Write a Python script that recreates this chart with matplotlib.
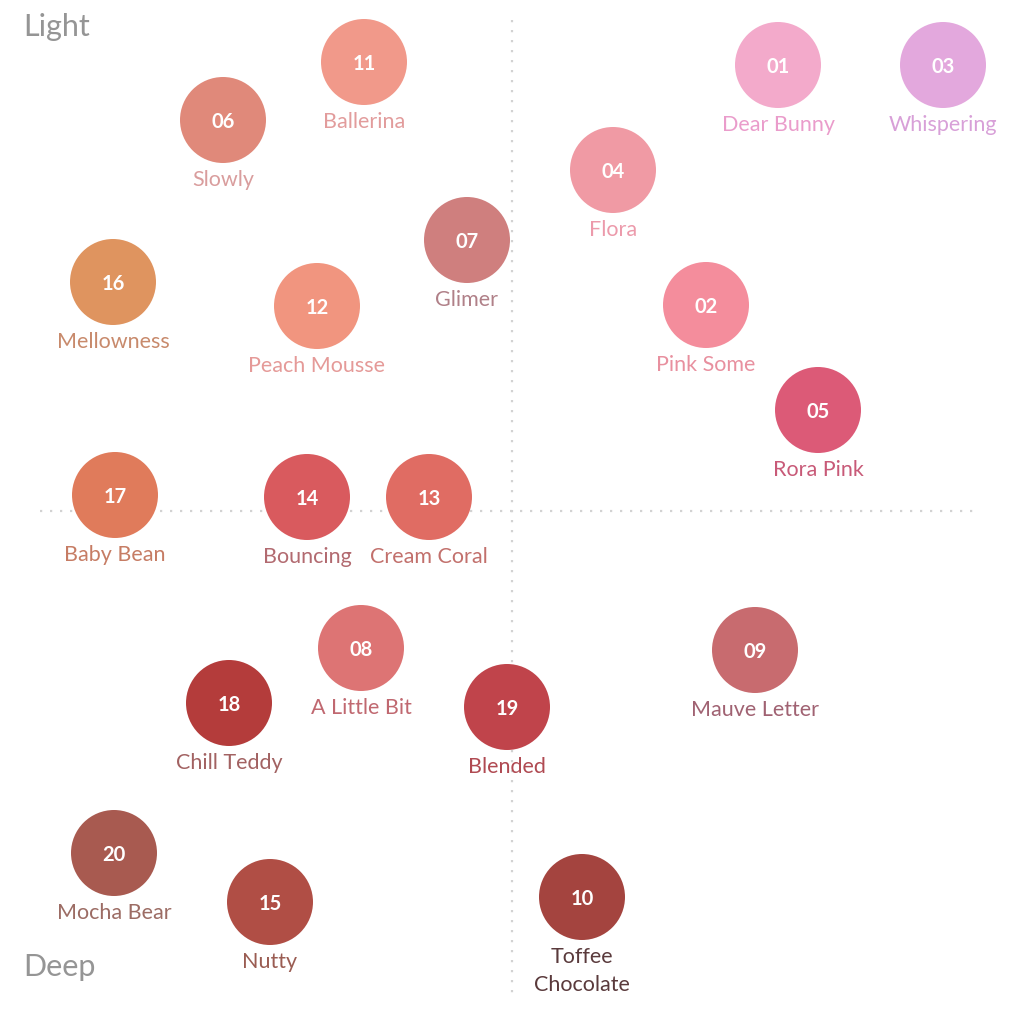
import matplotlib
matplotlib.use("Agg")
import matplotlib.pyplot as plt
from matplotlib.patches import Circle

# Shade numbers, names and their position on the chart (x: warm -> cool, y: light -> deep)
codes = ["11", "06", "01", "03", "04", "07", "16", "12", "02", "05",
         "17", "14", "13", "08", "18", "19", "09", "20", "15", "10"]
names = ["Ballerina", "Slowly", "Dear Bunny", "Whispering", "Flora", "Glimer",
         "Mellowness", "Peach Mousse", "Pink Some", "Rora Pink",
         "Baby Bean", "Bouncing", "Cream Coral", "A Little Bit", "Chill Teddy",
         "Blended", "Mauve Letter", "Mocha Bear", "Nutty", "Toffee\nChocolate"]
x_pos = [364, 223, 778, 943, 613, 467, 113, 317, 706, 818,
         115, 307, 429, 361, 229, 507, 755, 114, 270, 582]
y_pos = [62, 120, 65, 65, 170, 240, 282, 306, 305, 410,
         495, 497, 497, 648, 703, 707, 650, 853, 902, 897]

swatch_colors = ["#f1998a", "#e0897a", "#f3aacb", "#e3a8dd", "#f09aa4", "#cf7f7e",
                 "#df945f", "#f1957f", "#f48d9c", "#dc5a77",
                 "#e07b5b", "#d95a5e", "#e06c63", "#dd7474", "#b43c3b",
                 "#c0444b", "#c86b6f", "#a85a50", "#b04e45", "#a4443f"]
label_colors = ["#e29c9c", "#d99d9d", "#ea9ccb", "#d8a0d8", "#ec9aab", "#b08088",
                "#c88a6c", "#e59a98", "#e8909f", "#c85a78",
                "#c67c64", "#b26a70", "#c2706c", "#c06870", "#a26262",
                "#b04a52", "#a06272", "#9c6c64", "#9a5c52", "#5a3a3c"]

fig = plt.figure(figsize=(10.24, 10.24), dpi=100)
ax = fig.add_axes([0, 0, 1, 1])
ax.set_xlim(0, 1024)
ax.set_ylim(1024, 0)
ax.set_aspect("equal")
ax.axis("off")

font = ["Lato", "DejaVu Sans"]

# quadrant divider lines
ax.plot([512, 512], [20, 1000], color="#d2d2d2", lw=1.6, ls=(0, (1, 3.5)), zorder=1)
ax.plot([40, 978], [511, 511], color="#d2d2d2", lw=1.6, ls=(0, (1, 3.5)), zorder=1)

R = 43
for c, n, x, y, sc, lc in zip(codes, names, x_pos, y_pos, swatch_colors, label_colors):
    ax.add_patch(Circle((x, y), R, facecolor=sc, edgecolor="none", zorder=2))
    ax.text(x, y + 2, c, ha="center", va="center", color="white", fontsize=14.5,
            fontweight="bold", family=font, zorder=3)
    ax.text(x, y + R + 7, n, ha="center", va="top", color=lc, fontsize=15.5,
            family=font, linespacing=1.5, zorder=3)

ax.text(23, 27, "Light", ha="left", va="center", color="#959595", fontsize=22, family=font)
ax.text(23, 967, "Deep", ha="left", va="center", color="#959595", fontsize=22, family=font)

fig.savefig("out.png", dpi=100, facecolor="white")
